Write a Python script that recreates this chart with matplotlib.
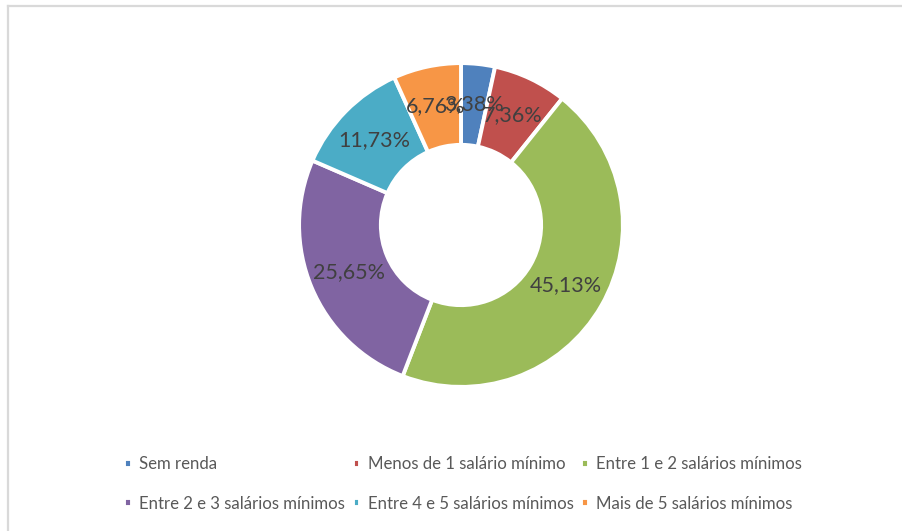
import matplotlib.pyplot as plt
from matplotlib.lines import Line2D

# === Dados ===
categorias = ["Sem renda", "Menos de 1 salário mínimo", "Entre 1 e 2 salários mínimos",
              "Entre 2 e 3 salários mínimos", "Entre 4 e 5 salários mínimos",
              "Mais de 5 salários mínimos"]
valores = [3.38, 7.36, 45.13, 25.65, 11.73, 6.76]
cores = ["#4f81bd", "#c0504d", "#9bbb59", "#8064a2", "#4bacc6", "#f79646"]

plt.rcParams['font.family'] = ['Lato', 'DejaVu Sans']

W, H = 903, 531
fig = plt.figure(figsize=(W / 100, H / 100), dpi=100)

# borda cinza (apenas esquerda e topo visíveis)
fig.add_artist(Line2D([7.5 / W, 7.5 / W], [0, 1 - 5.5 / H], color="#d9d9d9", lw=1.6))
fig.add_artist(Line2D([7.5 / W, 1], [1 - 5.5 / H, 1 - 5.5 / H], color="#d9d9d9", lw=1.6))

# === Rosca ===
cx, cy, r = 461, 225, 170
ax = fig.add_axes([(cx - r) / W, (H - cy - r) / H, 2 * r / W, 2 * r / H])
wedges, textos, pct = ax.pie(
    valores, colors=cores, startangle=90, counterclock=False, radius=1,
    wedgeprops=dict(width=0.505, edgecolor="white", linewidth=2.8),
    autopct=lambda p: f"{p:.2f}%".replace(".", ","), pctdistance=0.75,
    textprops=dict(color="#404040", fontsize=15.5))
ax.set_xlim(-1.05, 1.05)
ax.set_ylim(-1.05, 1.05)
ax.set_aspect('equal')
ax.axis('off')

# === Legenda (ordem por linhas) ===
ordem = [0, 3, 1, 4, 2, 5]
fig.legend([wedges[i] for i in ordem], [categorias[i] for i in ordem],
           loc="center", bbox_to_anchor=(463 / W, 1 - 484 / H), ncol=3,
           frameon=False, fontsize=12.1, labelcolor="#595959",
           handlelength=0.45, handleheight=0.45, handletextpad=0.45,
           columnspacing=0.45, labelspacing=1.4)

fig.savefig("out.png", dpi=100)
